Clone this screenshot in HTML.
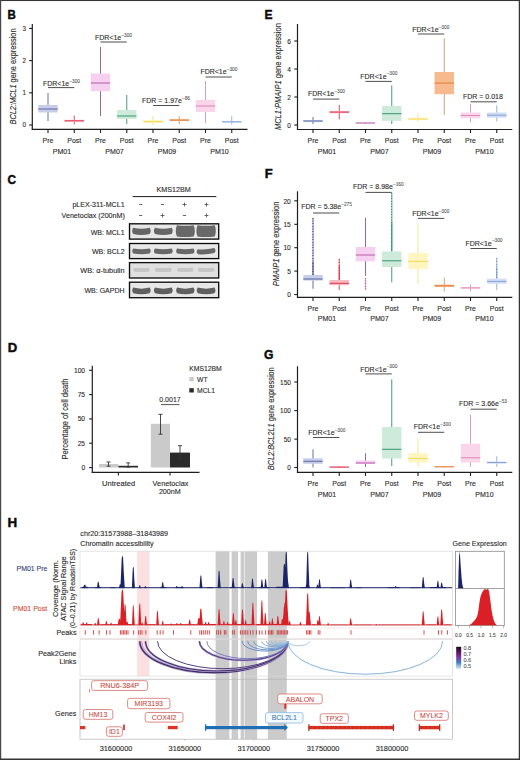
<!DOCTYPE html>
<html><head><meta charset="utf-8"><title>Figure</title>
<style>
html,body{margin:0;padding:0;background:#fff;}
body{width:520px;height:760px;overflow:hidden;}
svg{display:block;font-family:"Liberation Sans", sans-serif;}
</style></head><body>
<svg width="520" height="760" viewBox="0 0 520 760" fill="#2b2b2b">
<rect x="0" y="0" width="520" height="760" fill="#fff"/>
<text x="7.6" y="18.75" font-size="13.4" fill="#0a0a0a" font-weight="bold" textLength="8.32" lengthAdjust="spacingAndGlyphs" stroke="#0a0a0a" stroke-width="0.45">B</text>
<line x1="32.3" y1="24" x2="32.3" y2="129.6" stroke="#1e1e1e" stroke-width="1.2"/>
<line x1="29.1" y1="28.4" x2="32.3" y2="28.4" stroke="#1e1e1e" stroke-width="1.1"/>
<text x="26" y="30.85" font-size="6.8" text-anchor="end" textLength="3.48" lengthAdjust="spacingAndGlyphs" stroke="#2b2b2b" stroke-width="0.11">3</text>
<line x1="29.1" y1="60.6" x2="32.3" y2="60.6" stroke="#1e1e1e" stroke-width="1.1"/>
<text x="26" y="63.05" font-size="6.8" text-anchor="end" textLength="3.48" lengthAdjust="spacingAndGlyphs" stroke="#2b2b2b" stroke-width="0.11">2</text>
<line x1="29.1" y1="92.8" x2="32.3" y2="92.8" stroke="#1e1e1e" stroke-width="1.1"/>
<text x="26" y="95.25" font-size="6.8" text-anchor="end" textLength="3.48" lengthAdjust="spacingAndGlyphs" stroke="#2b2b2b" stroke-width="0.11">1</text>
<line x1="29.1" y1="125" x2="32.3" y2="125" stroke="#1e1e1e" stroke-width="1.1"/>
<text x="26" y="127.45" font-size="6.8" text-anchor="end" textLength="3.48" lengthAdjust="spacingAndGlyphs" stroke="#2b2b2b" stroke-width="0.11">0</text>
<line x1="31.7" y1="129.3" x2="247.5" y2="129.3" stroke="#1e1e1e" stroke-width="1.2"/>
<line x1="48" y1="129.3" x2="48" y2="132.9" stroke="#1e1e1e" stroke-width="1.1"/>
<line x1="74.25" y1="129.3" x2="74.25" y2="132.9" stroke="#1e1e1e" stroke-width="1.1"/>
<line x1="100.5" y1="129.3" x2="100.5" y2="132.9" stroke="#1e1e1e" stroke-width="1.1"/>
<line x1="126.75" y1="129.3" x2="126.75" y2="132.9" stroke="#1e1e1e" stroke-width="1.1"/>
<line x1="153" y1="129.3" x2="153" y2="132.9" stroke="#1e1e1e" stroke-width="1.1"/>
<line x1="179.25" y1="129.3" x2="179.25" y2="132.9" stroke="#1e1e1e" stroke-width="1.1"/>
<line x1="205.5" y1="129.3" x2="205.5" y2="132.9" stroke="#1e1e1e" stroke-width="1.1"/>
<line x1="231.75" y1="129.3" x2="231.75" y2="132.9" stroke="#1e1e1e" stroke-width="1.1"/>
<line x1="48" y1="93" x2="48" y2="121" stroke="#5e6aa0" stroke-width="0.95"/>
<rect x="38.3" y="105" width="19.4" height="7.5" fill="#c8cde8"/>
<line x1="38.3" y1="109" x2="57.7" y2="109" stroke="#5d6aa6" stroke-width="1.05"/>
<line x1="74.25" y1="115.5" x2="74.25" y2="124.5" stroke="#d24860" stroke-width="0.95"/>
<rect x="64.55" y="119.8" width="19.4" height="2" fill="#f7b9c2"/>
<line x1="64.55" y1="120.8" x2="83.95" y2="120.8" stroke="#e03a52" stroke-width="1.05"/>
<line x1="100.5" y1="47" x2="100.5" y2="116" stroke="#9c5894" stroke-width="0.95"/>
<rect x="90.8" y="73.5" width="19.4" height="17.7" fill="#f5d0ef"/>
<line x1="90.8" y1="83" x2="110.2" y2="83" stroke="#b862ad" stroke-width="1.05"/>
<line x1="126.75" y1="95" x2="126.75" y2="124" stroke="#3f9470" stroke-width="0.95"/>
<rect x="117.05" y="110" width="19.4" height="9" fill="#cdeadb"/>
<line x1="117.05" y1="116" x2="136.45" y2="116" stroke="#3a9a70" stroke-width="1.05"/>
<line x1="153" y1="116" x2="153" y2="125" stroke="#f3e286" stroke-width="0.95"/>
<rect x="143.3" y="120" width="19.4" height="3" fill="#fef5c0"/>
<line x1="143.3" y1="121.6" x2="162.7" y2="121.6" stroke="#f1da5a" stroke-width="1.05"/>
<line x1="179.25" y1="116" x2="179.25" y2="124" stroke="#d29a70" stroke-width="0.95"/>
<rect x="169.55" y="119.2" width="19.4" height="1.8" fill="#f7b98e"/>
<line x1="169.55" y1="120.1" x2="188.95" y2="120.1" stroke="#e67f38" stroke-width="1.05"/>
<line x1="205.5" y1="81" x2="205.5" y2="123" stroke="#d898bc" stroke-width="0.95"/>
<rect x="195.8" y="100" width="19.4" height="12" fill="#f9d6ea"/>
<line x1="195.8" y1="106" x2="215.2" y2="106" stroke="#e286b6" stroke-width="1.05"/>
<line x1="231.75" y1="116" x2="231.75" y2="124.5" stroke="#94acdc" stroke-width="0.95"/>
<rect x="222.05" y="120.9" width="19.4" height="1.7" fill="#d3def5"/>
<line x1="222.05" y1="121.8" x2="241.45" y2="121.8" stroke="#86a2da" stroke-width="1.05"/>
<text x="43" y="85.6" font-size="7.6" textLength="26.23" lengthAdjust="spacingAndGlyphs" stroke="#2b2b2b" stroke-width="0.12">FDR&lt;1e</text>
<text x="69.43" y="82.5" font-size="5" fill="#505050" textLength="10.57" lengthAdjust="spacingAndGlyphs" stroke="#505050" stroke-width="0.08">&#8211;300</text>
<line x1="48" y1="87.6" x2="74.25" y2="87.6" stroke="#3a3a3a" stroke-width="0.9"/>
<text x="95" y="39.9" font-size="7.6" textLength="26.23" lengthAdjust="spacingAndGlyphs" stroke="#2b2b2b" stroke-width="0.12">FDR&lt;1e</text>
<text x="121.43" y="36.8" font-size="5" fill="#505050" textLength="10.57" lengthAdjust="spacingAndGlyphs" stroke="#505050" stroke-width="0.08">&#8211;300</text>
<line x1="100.5" y1="42" x2="126.75" y2="42" stroke="#3a3a3a" stroke-width="0.9"/>
<text x="142" y="103.2" font-size="7.6" textLength="39.83" lengthAdjust="spacingAndGlyphs" stroke="#2b2b2b" stroke-width="0.12">FDR = 1.97e</text>
<text x="182.03" y="100.1" font-size="5" fill="#505050" textLength="7.92" lengthAdjust="spacingAndGlyphs" stroke="#505050" stroke-width="0.08">&#8211;86</text>
<line x1="153" y1="105.5" x2="179.25" y2="105.5" stroke="#3a3a3a" stroke-width="0.9"/>
<text x="200.4" y="74.3" font-size="7.6" textLength="26.23" lengthAdjust="spacingAndGlyphs" stroke="#2b2b2b" stroke-width="0.12">FDR&lt;1e</text>
<text x="226.83" y="71.2" font-size="5" fill="#505050" textLength="10.57" lengthAdjust="spacingAndGlyphs" stroke="#505050" stroke-width="0.08">&#8211;300</text>
<line x1="205.5" y1="77" x2="231.75" y2="77" stroke="#3a3a3a" stroke-width="0.9"/>
<text x="48" y="142.6" font-size="7.4" text-anchor="middle" textLength="10.82" lengthAdjust="spacingAndGlyphs" stroke="#2b2b2b" stroke-width="0.12">Pre</text>
<text x="74.25" y="142.6" font-size="7.4" text-anchor="middle" textLength="13.92" lengthAdjust="spacingAndGlyphs" stroke="#2b2b2b" stroke-width="0.12">Post</text>
<text x="100.5" y="142.6" font-size="7.4" text-anchor="middle" textLength="10.82" lengthAdjust="spacingAndGlyphs" stroke="#2b2b2b" stroke-width="0.12">Pre</text>
<text x="126.75" y="142.6" font-size="7.4" text-anchor="middle" textLength="13.92" lengthAdjust="spacingAndGlyphs" stroke="#2b2b2b" stroke-width="0.12">Post</text>
<text x="153" y="142.6" font-size="7.4" text-anchor="middle" textLength="10.82" lengthAdjust="spacingAndGlyphs" stroke="#2b2b2b" stroke-width="0.12">Pre</text>
<text x="179.25" y="142.6" font-size="7.4" text-anchor="middle" textLength="13.92" lengthAdjust="spacingAndGlyphs" stroke="#2b2b2b" stroke-width="0.12">Post</text>
<text x="205.5" y="142.6" font-size="7.4" text-anchor="middle" textLength="10.82" lengthAdjust="spacingAndGlyphs" stroke="#2b2b2b" stroke-width="0.12">Pre</text>
<text x="231.75" y="142.6" font-size="7.4" text-anchor="middle" textLength="13.92" lengthAdjust="spacingAndGlyphs" stroke="#2b2b2b" stroke-width="0.12">Post</text>
<text x="62.02" y="153.7" font-size="7.4" text-anchor="middle" textLength="18.36" lengthAdjust="spacingAndGlyphs" stroke="#2b2b2b" stroke-width="0.12">PM01</text>
<text x="114.53" y="153.7" font-size="7.4" text-anchor="middle" textLength="18.36" lengthAdjust="spacingAndGlyphs" stroke="#2b2b2b" stroke-width="0.12">PM07</text>
<text x="167.03" y="153.7" font-size="7.4" text-anchor="middle" textLength="18.36" lengthAdjust="spacingAndGlyphs" stroke="#2b2b2b" stroke-width="0.12">PM09</text>
<text x="219.53" y="153.7" font-size="7.4" text-anchor="middle" textLength="18.36" lengthAdjust="spacingAndGlyphs" stroke="#2b2b2b" stroke-width="0.12">PM10</text>
<text x="0" y="0" font-size="9" text-anchor="middle" textLength="96" lengthAdjust="spacingAndGlyphs" stroke="#2b2b2b" stroke-width="0.12" transform="translate(15.9 76.5) rotate(-90)"><tspan font-style="italic">BCL2:MCL1</tspan> gene expression</text>
<text x="264.5" y="18.5" font-size="13.4" fill="#0a0a0a" font-weight="bold" textLength="8.04" lengthAdjust="spacingAndGlyphs" stroke="#0a0a0a" stroke-width="0.45">E</text>
<line x1="297.5" y1="24" x2="297.5" y2="129.6" stroke="#1e1e1e" stroke-width="1.2"/>
<line x1="294.3" y1="41" x2="297.5" y2="41" stroke="#1e1e1e" stroke-width="1.1"/>
<text x="291" y="43.63" font-size="7.3" text-anchor="end" textLength="3.65" lengthAdjust="spacingAndGlyphs" stroke="#2b2b2b" stroke-width="0.12">6</text>
<line x1="294.3" y1="69" x2="297.5" y2="69" stroke="#1e1e1e" stroke-width="1.1"/>
<text x="291" y="71.63" font-size="7.3" text-anchor="end" textLength="3.65" lengthAdjust="spacingAndGlyphs" stroke="#2b2b2b" stroke-width="0.12">4</text>
<line x1="294.3" y1="97" x2="297.5" y2="97" stroke="#1e1e1e" stroke-width="1.1"/>
<text x="291" y="99.63" font-size="7.3" text-anchor="end" textLength="3.65" lengthAdjust="spacingAndGlyphs" stroke="#2b2b2b" stroke-width="0.12">2</text>
<line x1="294.3" y1="125" x2="297.5" y2="125" stroke="#1e1e1e" stroke-width="1.1"/>
<text x="291" y="127.63" font-size="7.3" text-anchor="end" textLength="3.65" lengthAdjust="spacingAndGlyphs" stroke="#2b2b2b" stroke-width="0.12">0</text>
<line x1="296.9" y1="129.5" x2="512.3" y2="129.5" stroke="#1e1e1e" stroke-width="1.2"/>
<line x1="313" y1="129.5" x2="313" y2="133.1" stroke="#1e1e1e" stroke-width="1.1"/>
<line x1="339.25" y1="129.5" x2="339.25" y2="133.1" stroke="#1e1e1e" stroke-width="1.1"/>
<line x1="365.5" y1="129.5" x2="365.5" y2="133.1" stroke="#1e1e1e" stroke-width="1.1"/>
<line x1="391.75" y1="129.5" x2="391.75" y2="133.1" stroke="#1e1e1e" stroke-width="1.1"/>
<line x1="418" y1="129.5" x2="418" y2="133.1" stroke="#1e1e1e" stroke-width="1.1"/>
<line x1="444.25" y1="129.5" x2="444.25" y2="133.1" stroke="#1e1e1e" stroke-width="1.1"/>
<line x1="470.5" y1="129.5" x2="470.5" y2="133.1" stroke="#1e1e1e" stroke-width="1.1"/>
<line x1="496.75" y1="129.5" x2="496.75" y2="133.1" stroke="#1e1e1e" stroke-width="1.1"/>
<line x1="313" y1="117" x2="313" y2="124" stroke="#5e6aa0" stroke-width="0.95"/>
<rect x="303.3" y="120.3" width="19.4" height="1.5" fill="#c8cde8"/>
<line x1="303.3" y1="121" x2="322.7" y2="121" stroke="#5d6aa6" stroke-width="1.05"/>
<line x1="339.25" y1="105" x2="339.25" y2="119.5" stroke="#d24860" stroke-width="0.95"/>
<rect x="329.55" y="111" width="19.4" height="2.2" fill="#f7b9c2"/>
<line x1="329.55" y1="112.1" x2="348.95" y2="112.1" stroke="#e03a52" stroke-width="1.05"/>
<line x1="365.5" y1="122.3" x2="365.5" y2="123.7" stroke="#9c5894" stroke-width="0.95"/>
<rect x="355.8" y="122.6" width="19.4" height="0.8" fill="#f5d0ef"/>
<line x1="355.8" y1="123" x2="375.2" y2="123" stroke="#b862ad" stroke-width="1.05"/>
<line x1="391.75" y1="85.4" x2="391.75" y2="124" stroke="#3f9470" stroke-width="0.95"/>
<rect x="382.05" y="106" width="19.4" height="14.8" fill="#cdeadb"/>
<line x1="382.05" y1="113.7" x2="401.45" y2="113.7" stroke="#3a9a70" stroke-width="1.05"/>
<line x1="418" y1="113.7" x2="418" y2="122" stroke="#f3e286" stroke-width="0.95"/>
<rect x="408.3" y="117.7" width="19.4" height="2.5" fill="#fef5c0"/>
<line x1="408.3" y1="119" x2="427.7" y2="119" stroke="#f1da5a" stroke-width="1.05"/>
<line x1="444.25" y1="38.3" x2="444.25" y2="115" stroke="#d29a70" stroke-width="0.95"/>
<rect x="434.55" y="72" width="19.4" height="22.2" fill="#f7b98e"/>
<line x1="434.55" y1="83.1" x2="453.95" y2="83.1" stroke="#e67f38" stroke-width="1.05"/>
<line x1="470.5" y1="103.8" x2="470.5" y2="122.3" stroke="#d898bc" stroke-width="0.95"/>
<rect x="460.8" y="112.5" width="19.4" height="5.8" fill="#f9d6ea"/>
<line x1="460.8" y1="115.5" x2="480.2" y2="115.5" stroke="#e286b6" stroke-width="1.05"/>
<line x1="496.75" y1="105.4" x2="496.75" y2="121.4" stroke="#94acdc" stroke-width="0.95"/>
<rect x="487.05" y="112.5" width="19.4" height="5.2" fill="#d3def5"/>
<line x1="487.05" y1="115.2" x2="506.45" y2="115.2" stroke="#86a2da" stroke-width="1.05"/>
<text x="308" y="96.2" font-size="7.6" textLength="26.23" lengthAdjust="spacingAndGlyphs" stroke="#2b2b2b" stroke-width="0.12">FDR&lt;1e</text>
<text x="334.43" y="93.1" font-size="5" fill="#505050" textLength="10.57" lengthAdjust="spacingAndGlyphs" stroke="#505050" stroke-width="0.08">&#8211;300</text>
<line x1="313" y1="99.1" x2="339.25" y2="99.1" stroke="#3a3a3a" stroke-width="0.9"/>
<text x="360.3" y="78.5" font-size="7.6" textLength="26.23" lengthAdjust="spacingAndGlyphs" stroke="#2b2b2b" stroke-width="0.12">FDR&lt;1e</text>
<text x="386.73" y="75.4" font-size="5" fill="#505050" textLength="10.57" lengthAdjust="spacingAndGlyphs" stroke="#505050" stroke-width="0.08">&#8211;300</text>
<line x1="365.5" y1="81.4" x2="391.75" y2="81.4" stroke="#3a3a3a" stroke-width="0.9"/>
<text x="412.3" y="31.6" font-size="7.6" textLength="26.23" lengthAdjust="spacingAndGlyphs" stroke="#2b2b2b" stroke-width="0.12">FDR&lt;1e</text>
<text x="438.73" y="28.5" font-size="5" fill="#505050" textLength="10.57" lengthAdjust="spacingAndGlyphs" stroke="#505050" stroke-width="0.08">&#8211;300</text>
<line x1="418" y1="34" x2="444.25" y2="34" stroke="#3a3a3a" stroke-width="0.9"/>
<text x="463" y="99.3" font-size="7.6" textLength="39.83" lengthAdjust="spacingAndGlyphs" stroke="#2b2b2b" stroke-width="0.12">FDR = 0.018</text>
<line x1="470.5" y1="101.8" x2="496.75" y2="101.8" stroke="#3a3a3a" stroke-width="0.9"/>
<text x="313" y="142.7" font-size="7.4" text-anchor="middle" textLength="10.82" lengthAdjust="spacingAndGlyphs" stroke="#2b2b2b" stroke-width="0.12">Pre</text>
<text x="339.25" y="142.7" font-size="7.4" text-anchor="middle" textLength="13.92" lengthAdjust="spacingAndGlyphs" stroke="#2b2b2b" stroke-width="0.12">Post</text>
<text x="365.5" y="142.7" font-size="7.4" text-anchor="middle" textLength="10.82" lengthAdjust="spacingAndGlyphs" stroke="#2b2b2b" stroke-width="0.12">Pre</text>
<text x="391.75" y="142.7" font-size="7.4" text-anchor="middle" textLength="13.92" lengthAdjust="spacingAndGlyphs" stroke="#2b2b2b" stroke-width="0.12">Post</text>
<text x="418" y="142.7" font-size="7.4" text-anchor="middle" textLength="10.82" lengthAdjust="spacingAndGlyphs" stroke="#2b2b2b" stroke-width="0.12">Pre</text>
<text x="444.25" y="142.7" font-size="7.4" text-anchor="middle" textLength="13.92" lengthAdjust="spacingAndGlyphs" stroke="#2b2b2b" stroke-width="0.12">Post</text>
<text x="470.5" y="142.7" font-size="7.4" text-anchor="middle" textLength="10.82" lengthAdjust="spacingAndGlyphs" stroke="#2b2b2b" stroke-width="0.12">Pre</text>
<text x="496.75" y="142.7" font-size="7.4" text-anchor="middle" textLength="13.92" lengthAdjust="spacingAndGlyphs" stroke="#2b2b2b" stroke-width="0.12">Post</text>
<text x="327.02" y="154" font-size="7.4" text-anchor="middle" textLength="18.36" lengthAdjust="spacingAndGlyphs" stroke="#2b2b2b" stroke-width="0.12">PM01</text>
<text x="379.52" y="154" font-size="7.4" text-anchor="middle" textLength="18.36" lengthAdjust="spacingAndGlyphs" stroke="#2b2b2b" stroke-width="0.12">PM07</text>
<text x="432.02" y="154" font-size="7.4" text-anchor="middle" textLength="18.36" lengthAdjust="spacingAndGlyphs" stroke="#2b2b2b" stroke-width="0.12">PM09</text>
<text x="484.52" y="154" font-size="7.4" text-anchor="middle" textLength="18.36" lengthAdjust="spacingAndGlyphs" stroke="#2b2b2b" stroke-width="0.12">PM10</text>
<text x="0" y="0" font-size="9" text-anchor="middle" textLength="107" lengthAdjust="spacingAndGlyphs" stroke="#2b2b2b" stroke-width="0.12" transform="translate(281 76.6) rotate(-90)"><tspan font-style="italic">MCL1:PMAIP1</tspan> gene expression</text>
<text x="264.7" y="177.5" font-size="13.4" fill="#0a0a0a" font-weight="bold" textLength="7.94" lengthAdjust="spacingAndGlyphs" stroke="#0a0a0a" stroke-width="0.45">F</text>
<line x1="297.5" y1="191.3" x2="297.5" y2="297.8" stroke="#1e1e1e" stroke-width="1.2"/>
<line x1="294.3" y1="200.8" x2="297.5" y2="200.8" stroke="#1e1e1e" stroke-width="1.1"/>
<text x="290.8" y="203.5" font-size="7.5" text-anchor="end" textLength="7.34" lengthAdjust="spacingAndGlyphs" stroke="#2b2b2b" stroke-width="0.12">20</text>
<line x1="294.3" y1="224.3" x2="297.5" y2="224.3" stroke="#1e1e1e" stroke-width="1.1"/>
<text x="290.8" y="227" font-size="7.5" text-anchor="end" textLength="7.34" lengthAdjust="spacingAndGlyphs" stroke="#2b2b2b" stroke-width="0.12">15</text>
<line x1="294.3" y1="247.7" x2="297.5" y2="247.7" stroke="#1e1e1e" stroke-width="1.1"/>
<text x="290.8" y="250.4" font-size="7.5" text-anchor="end" textLength="7.34" lengthAdjust="spacingAndGlyphs" stroke="#2b2b2b" stroke-width="0.12">10</text>
<line x1="294.3" y1="271.1" x2="297.5" y2="271.1" stroke="#1e1e1e" stroke-width="1.1"/>
<text x="290.8" y="273.8" font-size="7.5" text-anchor="end" textLength="3.67" lengthAdjust="spacingAndGlyphs" stroke="#2b2b2b" stroke-width="0.12">5</text>
<line x1="294.3" y1="294.5" x2="297.5" y2="294.5" stroke="#1e1e1e" stroke-width="1.1"/>
<text x="290.8" y="297.2" font-size="7.5" text-anchor="end" textLength="3.67" lengthAdjust="spacingAndGlyphs" stroke="#2b2b2b" stroke-width="0.12">0</text>
<line x1="296.9" y1="297.4" x2="512.3" y2="297.4" stroke="#1e1e1e" stroke-width="1.2"/>
<line x1="313" y1="297.4" x2="313" y2="301" stroke="#1e1e1e" stroke-width="1.1"/>
<line x1="339.25" y1="297.4" x2="339.25" y2="301" stroke="#1e1e1e" stroke-width="1.1"/>
<line x1="365.5" y1="297.4" x2="365.5" y2="301" stroke="#1e1e1e" stroke-width="1.1"/>
<line x1="391.75" y1="297.4" x2="391.75" y2="301" stroke="#1e1e1e" stroke-width="1.1"/>
<line x1="418" y1="297.4" x2="418" y2="301" stroke="#1e1e1e" stroke-width="1.1"/>
<line x1="444.25" y1="297.4" x2="444.25" y2="301" stroke="#1e1e1e" stroke-width="1.1"/>
<line x1="470.5" y1="297.4" x2="470.5" y2="301" stroke="#1e1e1e" stroke-width="1.1"/>
<line x1="496.75" y1="297.4" x2="496.75" y2="301" stroke="#1e1e1e" stroke-width="1.1"/>
<line x1="313" y1="262" x2="313" y2="288.8" stroke="#5e6aa0" stroke-width="0.95"/>
<line x1="313" y1="218" x2="313" y2="275" stroke="#34408a" stroke-width="1.35" stroke-dasharray="1.1 0.5"/>
<rect x="303.3" y="275" width="19.4" height="5.6" fill="#c8cde8"/>
<line x1="303.3" y1="279" x2="322.7" y2="279" stroke="#5d6aa6" stroke-width="1.05"/>
<line x1="339.25" y1="266" x2="339.25" y2="290" stroke="#d24860" stroke-width="0.95"/>
<line x1="339.25" y1="258.7" x2="339.25" y2="280" stroke="#d02a3a" stroke-width="1.35" stroke-dasharray="1.1 0.5"/>
<rect x="329.55" y="280" width="19.4" height="5.2" fill="#f7b9c2"/>
<line x1="329.55" y1="283.3" x2="348.95" y2="283.3" stroke="#e03a52" stroke-width="1.05"/>
<line x1="365.5" y1="217.7" x2="365.5" y2="276" stroke="#9c5894" stroke-width="0.95"/>
<line x1="365.5" y1="278" x2="365.5" y2="290" stroke="#b060a8" stroke-width="1.35" stroke-dasharray="1.1 0.5"/>
<rect x="355.8" y="247" width="19.4" height="14.3" fill="#f5d0ef"/>
<line x1="355.8" y1="255" x2="375.2" y2="255" stroke="#b862ad" stroke-width="1.05"/>
<line x1="391.75" y1="222" x2="391.75" y2="282.3" stroke="#3f9470" stroke-width="0.95"/>
<line x1="391.75" y1="193" x2="391.75" y2="251" stroke="#2a9066" stroke-width="1.35" stroke-dasharray="1.1 0.5"/>
<rect x="382.05" y="251.5" width="19.4" height="15.5" fill="#cdeadb"/>
<line x1="382.05" y1="260.8" x2="401.45" y2="260.8" stroke="#3a9a70" stroke-width="1.05"/>
<line x1="418" y1="223.8" x2="418" y2="283.8" stroke="#f3e286" stroke-width="0.95"/>
<rect x="408.3" y="253" width="19.4" height="16" fill="#fef5c0"/>
<line x1="408.3" y1="261.4" x2="427.7" y2="261.4" stroke="#f1da5a" stroke-width="1.05"/>
<line x1="444.25" y1="277.7" x2="444.25" y2="291.5" stroke="#d29a70" stroke-width="0.95"/>
<rect x="434.55" y="284.6" width="19.4" height="2.4" fill="#f7b98e"/>
<line x1="434.55" y1="285.8" x2="453.95" y2="285.8" stroke="#e67f38" stroke-width="1.05"/>
<line x1="470.5" y1="284.5" x2="470.5" y2="291" stroke="#d898bc" stroke-width="0.95"/>
<rect x="460.8" y="287.2" width="19.4" height="1.4" fill="#f9d6ea"/>
<line x1="460.8" y1="287.9" x2="480.2" y2="287.9" stroke="#e286b6" stroke-width="1.05"/>
<line x1="496.75" y1="268" x2="496.75" y2="290" stroke="#94acdc" stroke-width="0.95"/>
<line x1="496.75" y1="257.7" x2="496.75" y2="278" stroke="#7392d2" stroke-width="1.35" stroke-dasharray="1.1 0.5"/>
<rect x="487.05" y="278.6" width="19.4" height="5.2" fill="#d3def5"/>
<line x1="487.05" y1="281.4" x2="506.45" y2="281.4" stroke="#86a2da" stroke-width="1.05"/>
<text x="301.3" y="209.4" font-size="7.6" textLength="39.83" lengthAdjust="spacingAndGlyphs" stroke="#2b2b2b" stroke-width="0.12">FDR = 5.38e</text>
<text x="341.33" y="206.3" font-size="5" fill="#505050" textLength="10.57" lengthAdjust="spacingAndGlyphs" stroke="#505050" stroke-width="0.08">&#8211;275</text>
<line x1="313" y1="213" x2="339.25" y2="213" stroke="#3a3a3a" stroke-width="0.9"/>
<text x="353" y="189.4" font-size="7.6" textLength="39.83" lengthAdjust="spacingAndGlyphs" stroke="#2b2b2b" stroke-width="0.12">FDR = 8.98e</text>
<text x="393.03" y="186.3" font-size="5" fill="#505050" textLength="10.57" lengthAdjust="spacingAndGlyphs" stroke="#505050" stroke-width="0.08">&#8211;160</text>
<line x1="365.5" y1="192.4" x2="391.75" y2="192.4" stroke="#3a3a3a" stroke-width="0.9"/>
<text x="412.3" y="216.1" font-size="7.6" textLength="26.23" lengthAdjust="spacingAndGlyphs" stroke="#2b2b2b" stroke-width="0.12">FDR&lt;1e</text>
<text x="438.73" y="213" font-size="5" fill="#505050" textLength="10.57" lengthAdjust="spacingAndGlyphs" stroke="#505050" stroke-width="0.08">&#8211;300</text>
<line x1="418" y1="218.4" x2="444.25" y2="218.4" stroke="#3a3a3a" stroke-width="0.9"/>
<text x="465.5" y="245.5" font-size="7.6" textLength="26.23" lengthAdjust="spacingAndGlyphs" stroke="#2b2b2b" stroke-width="0.12">FDR&lt;1e</text>
<text x="491.93" y="242.4" font-size="5" fill="#505050" textLength="10.57" lengthAdjust="spacingAndGlyphs" stroke="#505050" stroke-width="0.08">&#8211;300</text>
<line x1="470.5" y1="248.5" x2="496.75" y2="248.5" stroke="#3a3a3a" stroke-width="0.9"/>
<text x="313" y="310.6" font-size="7.4" text-anchor="middle" textLength="10.82" lengthAdjust="spacingAndGlyphs" stroke="#2b2b2b" stroke-width="0.12">Pre</text>
<text x="339.25" y="310.6" font-size="7.4" text-anchor="middle" textLength="13.92" lengthAdjust="spacingAndGlyphs" stroke="#2b2b2b" stroke-width="0.12">Post</text>
<text x="365.5" y="310.6" font-size="7.4" text-anchor="middle" textLength="10.82" lengthAdjust="spacingAndGlyphs" stroke="#2b2b2b" stroke-width="0.12">Pre</text>
<text x="391.75" y="310.6" font-size="7.4" text-anchor="middle" textLength="13.92" lengthAdjust="spacingAndGlyphs" stroke="#2b2b2b" stroke-width="0.12">Post</text>
<text x="418" y="310.6" font-size="7.4" text-anchor="middle" textLength="10.82" lengthAdjust="spacingAndGlyphs" stroke="#2b2b2b" stroke-width="0.12">Pre</text>
<text x="444.25" y="310.6" font-size="7.4" text-anchor="middle" textLength="13.92" lengthAdjust="spacingAndGlyphs" stroke="#2b2b2b" stroke-width="0.12">Post</text>
<text x="470.5" y="310.6" font-size="7.4" text-anchor="middle" textLength="10.82" lengthAdjust="spacingAndGlyphs" stroke="#2b2b2b" stroke-width="0.12">Pre</text>
<text x="496.75" y="310.6" font-size="7.4" text-anchor="middle" textLength="13.92" lengthAdjust="spacingAndGlyphs" stroke="#2b2b2b" stroke-width="0.12">Post</text>
<text x="327.02" y="321.4" font-size="7.4" text-anchor="middle" textLength="18.36" lengthAdjust="spacingAndGlyphs" stroke="#2b2b2b" stroke-width="0.12">PM01</text>
<text x="379.52" y="321.4" font-size="7.4" text-anchor="middle" textLength="18.36" lengthAdjust="spacingAndGlyphs" stroke="#2b2b2b" stroke-width="0.12">PM07</text>
<text x="432.02" y="321.4" font-size="7.4" text-anchor="middle" textLength="18.36" lengthAdjust="spacingAndGlyphs" stroke="#2b2b2b" stroke-width="0.12">PM09</text>
<text x="484.52" y="321.4" font-size="7.4" text-anchor="middle" textLength="18.36" lengthAdjust="spacingAndGlyphs" stroke="#2b2b2b" stroke-width="0.12">PM10</text>
<text x="0" y="0" font-size="9" text-anchor="middle" textLength="84.5" lengthAdjust="spacingAndGlyphs" stroke="#2b2b2b" stroke-width="0.12" transform="translate(278.6 243.9) rotate(-90)"><tspan font-style="italic">PMAIP1</tspan> gene expression</text>
<text x="264" y="359.1" font-size="13.4" fill="#0a0a0a" font-weight="bold" textLength="9.48" lengthAdjust="spacingAndGlyphs" stroke="#0a0a0a" stroke-width="0.45">G</text>
<line x1="297.5" y1="366.3" x2="297.5" y2="472.7" stroke="#1e1e1e" stroke-width="1.2"/>
<line x1="294.3" y1="382" x2="297.5" y2="382" stroke="#1e1e1e" stroke-width="1.1"/>
<text x="290.8" y="384.63" font-size="7.3" text-anchor="end" textLength="10.72" lengthAdjust="spacingAndGlyphs" stroke="#2b2b2b" stroke-width="0.12">150</text>
<line x1="294.3" y1="410.6" x2="297.5" y2="410.6" stroke="#1e1e1e" stroke-width="1.1"/>
<text x="290.8" y="413.23" font-size="7.3" text-anchor="end" textLength="10.72" lengthAdjust="spacingAndGlyphs" stroke="#2b2b2b" stroke-width="0.12">100</text>
<line x1="294.3" y1="439.1" x2="297.5" y2="439.1" stroke="#1e1e1e" stroke-width="1.1"/>
<text x="290.8" y="441.73" font-size="7.3" text-anchor="end" textLength="7.14" lengthAdjust="spacingAndGlyphs" stroke="#2b2b2b" stroke-width="0.12">50</text>
<line x1="294.3" y1="467.5" x2="297.5" y2="467.5" stroke="#1e1e1e" stroke-width="1.1"/>
<text x="290.8" y="470.13" font-size="7.3" text-anchor="end" textLength="3.57" lengthAdjust="spacingAndGlyphs" stroke="#2b2b2b" stroke-width="0.12">0</text>
<line x1="296.9" y1="472.4" x2="512.3" y2="472.4" stroke="#1e1e1e" stroke-width="1.2"/>
<line x1="313" y1="472.4" x2="313" y2="476" stroke="#1e1e1e" stroke-width="1.1"/>
<line x1="339.25" y1="472.4" x2="339.25" y2="476" stroke="#1e1e1e" stroke-width="1.1"/>
<line x1="365.5" y1="472.4" x2="365.5" y2="476" stroke="#1e1e1e" stroke-width="1.1"/>
<line x1="391.75" y1="472.4" x2="391.75" y2="476" stroke="#1e1e1e" stroke-width="1.1"/>
<line x1="418" y1="472.4" x2="418" y2="476" stroke="#1e1e1e" stroke-width="1.1"/>
<line x1="444.25" y1="472.4" x2="444.25" y2="476" stroke="#1e1e1e" stroke-width="1.1"/>
<line x1="470.5" y1="472.4" x2="470.5" y2="476" stroke="#1e1e1e" stroke-width="1.1"/>
<line x1="496.75" y1="472.4" x2="496.75" y2="476" stroke="#1e1e1e" stroke-width="1.1"/>
<line x1="313" y1="449.3" x2="313" y2="467.5" stroke="#5e6aa0" stroke-width="0.95"/>
<rect x="303.3" y="458.3" width="19.4" height="5.5" fill="#c8cde8"/>
<line x1="303.3" y1="461.3" x2="322.7" y2="461.3" stroke="#5d6aa6" stroke-width="1.05"/>
<line x1="339.25" y1="466.3" x2="339.25" y2="467.8" stroke="#d24860" stroke-width="0.95"/>
<rect x="329.55" y="466.5" width="19.4" height="1.1" fill="#f7b9c2"/>
<line x1="329.55" y1="467.1" x2="348.95" y2="467.1" stroke="#e03a52" stroke-width="1.05"/>
<line x1="365.5" y1="453.2" x2="365.5" y2="467" stroke="#9c5894" stroke-width="0.95"/>
<rect x="355.8" y="460.5" width="19.4" height="3.5" fill="#f5d0ef"/>
<line x1="355.8" y1="463" x2="375.2" y2="463" stroke="#b862ad" stroke-width="1.05"/>
<line x1="391.75" y1="379.4" x2="391.75" y2="466.2" stroke="#3f9470" stroke-width="0.95"/>
<rect x="382.05" y="427" width="19.4" height="31.5" fill="#cdeadb"/>
<line x1="382.05" y1="449.3" x2="401.45" y2="449.3" stroke="#3a9a70" stroke-width="1.05"/>
<line x1="418" y1="439" x2="418" y2="466.8" stroke="#f3e286" stroke-width="0.95"/>
<rect x="408.3" y="453.2" width="19.4" height="9.3" fill="#fef5c0"/>
<line x1="408.3" y1="458.5" x2="427.7" y2="458.5" stroke="#f1da5a" stroke-width="1.05"/>
<line x1="444.25" y1="466.2" x2="444.25" y2="467.4" stroke="#d29a70" stroke-width="0.95"/>
<rect x="434.55" y="466.4" width="19.4" height="0.8" fill="#f7b98e"/>
<line x1="434.55" y1="466.8" x2="453.95" y2="466.8" stroke="#e67f38" stroke-width="1.05"/>
<line x1="470.5" y1="414.8" x2="470.5" y2="466.8" stroke="#d898bc" stroke-width="0.95"/>
<rect x="460.8" y="443.7" width="19.4" height="18.8" fill="#f9d6ea"/>
<line x1="460.8" y1="457.8" x2="480.2" y2="457.8" stroke="#e286b6" stroke-width="1.05"/>
<line x1="496.75" y1="456.3" x2="496.75" y2="466.8" stroke="#94acdc" stroke-width="0.95"/>
<rect x="487.05" y="461.5" width="19.4" height="2.2" fill="#d3def5"/>
<line x1="487.05" y1="462.5" x2="506.45" y2="462.5" stroke="#86a2da" stroke-width="1.05"/>
<text x="308.3" y="435.1" font-size="7.6" textLength="26.23" lengthAdjust="spacingAndGlyphs" stroke="#2b2b2b" stroke-width="0.12">FDR&lt;1e</text>
<text x="334.73" y="432" font-size="5" fill="#505050" textLength="10.57" lengthAdjust="spacingAndGlyphs" stroke="#505050" stroke-width="0.08">&#8211;300</text>
<line x1="313" y1="437.5" x2="339.25" y2="437.5" stroke="#3a3a3a" stroke-width="0.9"/>
<text x="360.3" y="371.5" font-size="7.6" textLength="26.23" lengthAdjust="spacingAndGlyphs" stroke="#2b2b2b" stroke-width="0.12">FDR&lt;1e</text>
<text x="386.73" y="368.4" font-size="5" fill="#505050" textLength="10.57" lengthAdjust="spacingAndGlyphs" stroke="#505050" stroke-width="0.08">&#8211;300</text>
<line x1="365.5" y1="373.9" x2="391.75" y2="373.9" stroke="#3a3a3a" stroke-width="0.9"/>
<text x="413.8" y="429.3" font-size="7.6" textLength="26.23" lengthAdjust="spacingAndGlyphs" stroke="#2b2b2b" stroke-width="0.12">FDR&lt;1e</text>
<text x="440.23" y="426.2" font-size="5" fill="#505050" textLength="10.57" lengthAdjust="spacingAndGlyphs" stroke="#505050" stroke-width="0.08">&#8211;300</text>
<line x1="418" y1="432.3" x2="444.25" y2="432.3" stroke="#3a3a3a" stroke-width="0.9"/>
<text x="459" y="406.3" font-size="7.6" textLength="39.83" lengthAdjust="spacingAndGlyphs" stroke="#2b2b2b" stroke-width="0.12">FDR = 3.66e</text>
<text x="499.03" y="403.2" font-size="5" fill="#505050" textLength="7.92" lengthAdjust="spacingAndGlyphs" stroke="#505050" stroke-width="0.08">&#8211;53</text>
<line x1="470.5" y1="409.2" x2="496.75" y2="409.2" stroke="#3a3a3a" stroke-width="0.9"/>
<text x="313" y="485.6" font-size="7.4" text-anchor="middle" textLength="10.82" lengthAdjust="spacingAndGlyphs" stroke="#2b2b2b" stroke-width="0.12">Pre</text>
<text x="339.25" y="485.6" font-size="7.4" text-anchor="middle" textLength="13.92" lengthAdjust="spacingAndGlyphs" stroke="#2b2b2b" stroke-width="0.12">Post</text>
<text x="365.5" y="485.6" font-size="7.4" text-anchor="middle" textLength="10.82" lengthAdjust="spacingAndGlyphs" stroke="#2b2b2b" stroke-width="0.12">Pre</text>
<text x="391.75" y="485.6" font-size="7.4" text-anchor="middle" textLength="13.92" lengthAdjust="spacingAndGlyphs" stroke="#2b2b2b" stroke-width="0.12">Post</text>
<text x="418" y="485.6" font-size="7.4" text-anchor="middle" textLength="10.82" lengthAdjust="spacingAndGlyphs" stroke="#2b2b2b" stroke-width="0.12">Pre</text>
<text x="444.25" y="485.6" font-size="7.4" text-anchor="middle" textLength="13.92" lengthAdjust="spacingAndGlyphs" stroke="#2b2b2b" stroke-width="0.12">Post</text>
<text x="470.5" y="485.6" font-size="7.4" text-anchor="middle" textLength="10.82" lengthAdjust="spacingAndGlyphs" stroke="#2b2b2b" stroke-width="0.12">Pre</text>
<text x="496.75" y="485.6" font-size="7.4" text-anchor="middle" textLength="13.92" lengthAdjust="spacingAndGlyphs" stroke="#2b2b2b" stroke-width="0.12">Post</text>
<text x="327.02" y="496.8" font-size="7.4" text-anchor="middle" textLength="18.36" lengthAdjust="spacingAndGlyphs" stroke="#2b2b2b" stroke-width="0.12">PM01</text>
<text x="379.52" y="496.8" font-size="7.4" text-anchor="middle" textLength="18.36" lengthAdjust="spacingAndGlyphs" stroke="#2b2b2b" stroke-width="0.12">PM07</text>
<text x="432.02" y="496.8" font-size="7.4" text-anchor="middle" textLength="18.36" lengthAdjust="spacingAndGlyphs" stroke="#2b2b2b" stroke-width="0.12">PM09</text>
<text x="484.52" y="496.8" font-size="7.4" text-anchor="middle" textLength="18.36" lengthAdjust="spacingAndGlyphs" stroke="#2b2b2b" stroke-width="0.12">PM10</text>
<text x="0" y="0" font-size="9" text-anchor="middle" textLength="103" lengthAdjust="spacingAndGlyphs" stroke="#2b2b2b" stroke-width="0.12" transform="translate(273.6 418.8) rotate(-90)"><tspan font-style="italic">BCL2:BCL2L1</tspan> gene expression</text>
<text x="7.6" y="183.8" font-size="13.4" fill="#0a0a0a" font-weight="bold" textLength="8.52" lengthAdjust="spacingAndGlyphs" stroke="#0a0a0a" stroke-width="0.45">C</text>
<text x="173.7" y="192.2" font-size="7.4" text-anchor="middle" textLength="34.2" lengthAdjust="spacingAndGlyphs" stroke="#2b2b2b" stroke-width="0.12">KMS12BM</text>
<line x1="132.7" y1="196.6" x2="216.3" y2="196.6" stroke="#1a1a1a" stroke-width="1"/>
<text x="124.6" y="206.7" font-size="7.2" text-anchor="end" textLength="52.2" lengthAdjust="spacingAndGlyphs" stroke="#2b2b2b" stroke-width="0.12">pLEX-311-MCL1</text>
<text x="124.8" y="218.1" font-size="7.2" text-anchor="end" textLength="63.2" lengthAdjust="spacingAndGlyphs" stroke="#2b2b2b" stroke-width="0.12">Venetoclax (200nM)</text>
<line x1="139.1" y1="204.5" x2="142.3" y2="204.5" stroke="#4a4a4a" stroke-width="0.85"/>
<line x1="139.1" y1="215.5" x2="142.3" y2="215.5" stroke="#4a4a4a" stroke-width="0.85"/>
<line x1="160.9" y1="204.5" x2="164.1" y2="204.5" stroke="#4a4a4a" stroke-width="0.85"/>
<line x1="160.5" y1="215.5" x2="164.5" y2="215.5" stroke="#4a4a4a" stroke-width="0.8"/>
<line x1="162.5" y1="213.5" x2="162.5" y2="217.5" stroke="#4a4a4a" stroke-width="0.8"/>
<line x1="182.5" y1="204.5" x2="186.5" y2="204.5" stroke="#4a4a4a" stroke-width="0.8"/>
<line x1="184.5" y1="202.5" x2="184.5" y2="206.5" stroke="#4a4a4a" stroke-width="0.8"/>
<line x1="182.9" y1="215.5" x2="186.1" y2="215.5" stroke="#4a4a4a" stroke-width="0.85"/>
<line x1="204.5" y1="204.5" x2="208.5" y2="204.5" stroke="#4a4a4a" stroke-width="0.8"/>
<line x1="206.5" y1="202.5" x2="206.5" y2="206.5" stroke="#4a4a4a" stroke-width="0.8"/>
<line x1="204.5" y1="215.5" x2="208.5" y2="215.5" stroke="#4a4a4a" stroke-width="0.8"/>
<line x1="206.5" y1="213.5" x2="206.5" y2="217.5" stroke="#4a4a4a" stroke-width="0.8"/>
<defs><filter id="bl" x="-10%" y="-40%" width="120%" height="180%"><feGaussianBlur stdDeviation="0.45"/></filter></defs>
<text x="124.6" y="234.55" font-size="7.3" text-anchor="end" textLength="33.88" lengthAdjust="spacingAndGlyphs" stroke="#2b2b2b" stroke-width="0.12">WB: MCL1</text>
<rect x="129.5" y="223.8" width="89.2" height="15.3" fill="#e7e7e7" stroke="#0e0e0e" stroke-width="1.35"/>
<path d="M133.3 227.8 Q141.45 229.6 149.6 227.8 Q151.8 230.95 149.6 234.1 Q141.45 235.9 133.3 234.1 Q131.1 230.95 133.3 227.8 Z" fill="#666666" filter="url(#bl)"/>
<path d="M155 227.8 Q163.3 229.6 171.6 227.8 Q173.8 230.95 171.6 234.1 Q163.3 235.9 155 234.1 Q152.8 230.95 155 227.8 Z" fill="#666666" filter="url(#bl)"/>
<path d="M176.9 225.3 Q185.3 226.3 193.7 225.3 Q195.9 230.95 193.7 236.6 Q185.3 237.6 176.9 236.6 Q174.7 230.95 176.9 225.3 Z" fill="#676767" filter="url(#bl)"/>
<path d="M197.5 225.3 Q206.1 226.3 214.7 225.3 Q216.9 230.95 214.7 236.6 Q206.1 237.6 197.5 236.6 Q195.3 230.95 197.5 225.3 Z" fill="#676767" filter="url(#bl)"/>
<text x="124.6" y="254.15" font-size="7.3" text-anchor="end" textLength="32.71" lengthAdjust="spacingAndGlyphs" stroke="#2b2b2b" stroke-width="0.12">WB: BCL2</text>
<rect x="129.5" y="243.5" width="89.2" height="15.1" fill="#e7e7e7" stroke="#0e0e0e" stroke-width="1.35"/>
<path d="M133.3 248.6 Q141.45 250 149.6 248.6 Q151.8 251.1 149.6 253.6 Q141.45 255 133.3 253.6 Q131.1 251.1 133.3 248.6 Z" fill="#686868" filter="url(#bl)"/>
<path d="M155 248.6 Q163.3 250 171.6 248.6 Q173.8 251.1 171.6 253.6 Q163.3 255 155 253.6 Q152.8 251.1 155 248.6 Z" fill="#686868" filter="url(#bl)"/>
<path d="M177.2 248.6 Q185.3 250 193.4 248.6 Q195.6 251.1 193.4 253.6 Q185.3 255 177.2 253.6 Q175 251.1 177.2 248.6 Z" fill="#686868" filter="url(#bl)"/>
<path d="M197.8 249.2 Q206.1 250 214.4 248 Q216.6 250.5 214.4 253 Q206.1 255 197.8 254.2 Q195.6 251.7 197.8 249.2 Z" fill="#686868" filter="url(#bl)"/>
<text x="124.6" y="272.9" font-size="7.3" text-anchor="end" textLength="44.3" lengthAdjust="spacingAndGlyphs" stroke="#2b2b2b" stroke-width="0.12">WB: &#945;-tubulin</text>
<rect x="129.5" y="262.6" width="89.2" height="15.4" fill="#e0e0e0" stroke="#0e0e0e" stroke-width="1.35"/>
<path d="M134.3 267.8 Q141.45 268.4 148.6 267.8 Q150.8 269.8 148.6 271.8 Q141.45 272.4 134.3 271.8 Q132.1 269.8 134.3 267.8 Z" fill="#c6c6c6" filter="url(#bl)"/>
<path d="M156 267.8 Q163.3 268.4 170.6 267.8 Q172.8 269.8 170.6 271.8 Q163.3 272.4 156 271.8 Q153.8 269.8 156 267.8 Z" fill="#c6c6c6" filter="url(#bl)"/>
<path d="M178.2 267.8 Q185.3 268.4 192.4 267.8 Q194.6 269.8 192.4 271.8 Q185.3 272.4 178.2 271.8 Q176 269.8 178.2 267.8 Z" fill="#c6c6c6" filter="url(#bl)"/>
<path d="M198.8 267.8 Q206.1 268.4 213.4 267.8 Q215.6 269.8 213.4 271.8 Q206.1 272.4 198.8 271.8 Q196.6 269.8 198.8 267.8 Z" fill="#c6c6c6" filter="url(#bl)"/>
<text x="124.6" y="292.55" font-size="7.3" text-anchor="end" textLength="40.11" lengthAdjust="spacingAndGlyphs" stroke="#2b2b2b" stroke-width="0.12">WB: GAPDH</text>
<rect x="129.5" y="282.2" width="89.2" height="15.5" fill="#e7e7e7" stroke="#0e0e0e" stroke-width="1.35"/>
<path d="M133.3 287.6 Q141.45 289.8 149.6 287.6 Q151.8 290.4 149.6 293.2 Q141.45 295.4 133.3 293.2 Q131.1 290.4 133.3 287.6 Z" fill="#5e5e5e" filter="url(#bl)"/>
<path d="M155 287.6 Q163.3 289.8 171.6 287.6 Q173.8 290.4 171.6 293.2 Q163.3 295.4 155 293.2 Q152.8 290.4 155 287.6 Z" fill="#5e5e5e" filter="url(#bl)"/>
<path d="M177.2 287.6 Q185.3 289.8 193.4 287.6 Q195.6 290.4 193.4 293.2 Q185.3 295.4 177.2 293.2 Q175 290.4 177.2 287.6 Z" fill="#5e5e5e" filter="url(#bl)"/>
<path d="M197.8 287.6 Q206.1 289.8 214.4 287.6 Q216.6 290.4 214.4 293.2 Q206.1 295.4 197.8 293.2 Q195.6 290.4 197.8 287.6 Z" fill="#5e5e5e" filter="url(#bl)"/>
<text x="7.7" y="351.8" font-size="13.4" fill="#0a0a0a" font-weight="bold" textLength="9.48" lengthAdjust="spacingAndGlyphs" stroke="#0a0a0a" stroke-width="0.45">D</text>
<line x1="92.3" y1="365.7" x2="92.3" y2="472.9" stroke="#1e1e1e" stroke-width="1.2"/>
<line x1="89.1" y1="370.3" x2="92.3" y2="370.3" stroke="#1e1e1e" stroke-width="1.1"/>
<text x="85.1" y="372.78" font-size="6.9" text-anchor="end" textLength="11.17" lengthAdjust="spacingAndGlyphs" stroke="#2b2b2b" stroke-width="0.11">100</text>
<line x1="89.1" y1="394.6" x2="92.3" y2="394.6" stroke="#1e1e1e" stroke-width="1.1"/>
<text x="85.1" y="397.08" font-size="6.9" text-anchor="end" textLength="7.44" lengthAdjust="spacingAndGlyphs" stroke="#2b2b2b" stroke-width="0.11">75</text>
<line x1="89.1" y1="418.9" x2="92.3" y2="418.9" stroke="#1e1e1e" stroke-width="1.1"/>
<text x="85.1" y="421.38" font-size="6.9" text-anchor="end" textLength="7.44" lengthAdjust="spacingAndGlyphs" stroke="#2b2b2b" stroke-width="0.11">50</text>
<line x1="89.1" y1="443.2" x2="92.3" y2="443.2" stroke="#1e1e1e" stroke-width="1.1"/>
<text x="85.1" y="445.68" font-size="6.9" text-anchor="end" textLength="7.44" lengthAdjust="spacingAndGlyphs" stroke="#2b2b2b" stroke-width="0.11">25</text>
<line x1="89.1" y1="467.6" x2="92.3" y2="467.6" stroke="#1e1e1e" stroke-width="1.1"/>
<text x="85.1" y="470.08" font-size="6.9" text-anchor="end" textLength="3.72" lengthAdjust="spacingAndGlyphs" stroke="#2b2b2b" stroke-width="0.11">0</text>
<line x1="91.7" y1="472.4" x2="199.5" y2="472.4" stroke="#1e1e1e" stroke-width="1.2"/>
<line x1="118.4" y1="472.3" x2="118.4" y2="475.5" stroke="#1e1e1e" stroke-width="1.1"/>
<line x1="170" y1="472.3" x2="170" y2="475.5" stroke="#1e1e1e" stroke-width="1.1"/>
<rect x="99" y="464" width="19.4" height="3.5" fill="#cacaca"/>
<rect x="118.4" y="465.8" width="19.6" height="1.7" fill="#2a2a2a"/>
<rect x="150.8" y="423.8" width="19.2" height="43.7" fill="#cacaca"/>
<rect x="170" y="452.6" width="20" height="14.9" fill="#2a2a2a"/>
<line x1="108.5" y1="462" x2="108.5" y2="466.2" stroke="#333" stroke-width="0.9"/>
<line x1="106.5" y1="462" x2="110.5" y2="462" stroke="#333" stroke-width="0.9"/>
<line x1="106.5" y1="466.2" x2="110.5" y2="466.2" stroke="#333" stroke-width="0.9"/>
<line x1="128.2" y1="462.9" x2="128.2" y2="467" stroke="#333" stroke-width="0.9"/>
<line x1="126.2" y1="462.9" x2="130.2" y2="462.9" stroke="#333" stroke-width="0.9"/>
<line x1="126.2" y1="467" x2="130.2" y2="467" stroke="#333" stroke-width="0.9"/>
<line x1="160.5" y1="414.3" x2="160.5" y2="434.2" stroke="#333" stroke-width="0.9"/>
<line x1="158.5" y1="414.3" x2="162.5" y2="414.3" stroke="#333" stroke-width="0.9"/>
<line x1="158.5" y1="434.2" x2="162.5" y2="434.2" stroke="#333" stroke-width="0.9"/>
<line x1="180" y1="445.7" x2="180" y2="458.8" stroke="#333" stroke-width="0.9"/>
<line x1="178" y1="445.7" x2="182" y2="445.7" stroke="#333" stroke-width="0.9"/>
<line x1="178" y1="458.8" x2="182" y2="458.8" stroke="#333" stroke-width="0.9"/>
<text x="170" y="402.2" font-size="7" text-anchor="middle" stroke="#2b2b2b" stroke-width="0.11">0.0017</text>
<line x1="161" y1="404.6" x2="179.5" y2="404.6" stroke="#444" stroke-width="0.9"/>
<text x="189.3" y="371.3" font-size="6.8" stroke="#2b2b2b" stroke-width="0.11">KMS12BM</text>
<rect x="189.3" y="377" width="4.5" height="4.3" fill="#cacaca"/>
<text x="197" y="381.8" font-size="6.8" stroke="#2b2b2b" stroke-width="0.11">WT</text>
<rect x="189.3" y="388.2" width="4.5" height="4.3" fill="#2a2a2a"/>
<text x="197" y="392.6" font-size="6.8" stroke="#2b2b2b" stroke-width="0.11">MCL1</text>
<text x="118.6" y="485.9" font-size="7.4" text-anchor="middle" textLength="33" lengthAdjust="spacingAndGlyphs" stroke="#2b2b2b" stroke-width="0.12">Untreated</text>
<text x="170.5" y="485.9" font-size="7.4" text-anchor="middle" textLength="35.8" lengthAdjust="spacingAndGlyphs" stroke="#2b2b2b" stroke-width="0.12">Venetoclax</text>
<text x="169.8" y="494.1" font-size="7.4" text-anchor="middle" textLength="21.8" lengthAdjust="spacingAndGlyphs" stroke="#2b2b2b" stroke-width="0.12">200nM</text>
<text x="0" y="0" font-size="9.8" text-anchor="middle" textLength="81" lengthAdjust="spacingAndGlyphs" stroke="#2b2b2b" stroke-width="0.12" transform="translate(67.5 419) rotate(-90)">Percentage of cell death</text>
<text x="7.4" y="526.75" font-size="13.4" fill="#0a0a0a" font-weight="bold" textLength="9.68" lengthAdjust="spacingAndGlyphs" stroke="#0a0a0a" stroke-width="0.45">H</text>
<text x="80.3" y="536.2" font-size="7.1" textLength="87.8" lengthAdjust="spacingAndGlyphs" stroke="#2b2b2b" stroke-width="0.11">chr20:31573988&#8211;31843989</text>
<text x="80.3" y="545.6" font-size="7.1" textLength="73.4" lengthAdjust="spacingAndGlyphs" stroke="#2b2b2b" stroke-width="0.11">Chromatin accessibility</text>
<rect x="137.1" y="551.2" width="12.3" height="125" fill="#fbdfe1"/>
<rect x="215.6" y="551.2" width="13.8" height="188" fill="#cbcbcb"/>
<rect x="231.6" y="551.2" width="6.5" height="188" fill="#cbcbcb"/>
<rect x="240.6" y="551.2" width="3.6" height="188" fill="#cbcbcb"/>
<rect x="244.7" y="551.2" width="12.4" height="188" fill="#cbcbcb"/>
<rect x="267.9" y="551.2" width="18.9" height="188" fill="#cbcbcb"/>
<rect x="80" y="587.2" width="372.5" height="1.1" fill="#1b2466"/>
<path d="M82.95 588.3 L83.65 586.32 L84.12 584.99 L84.59 584.7 L85.29 584.84 L85.99 586.68 L86.85 588.3 Z M96.84 588.3 L97.4 584.67 L97.78 582.23 L98.15 581.7 L98.71 581.96 L99.27 585.33 L99.96 588.3 Z M118.78 588.3 L119.36 586.1 L119.75 584.62 L120.14 584.3 L120.73 584.46 L121.31 586.5 L122.03 588.3 Z M120.39 588.3 L121.19 570.42 L121.72 558.4 L122.25 555.8 L123.04 557.1 L123.84 573.67 L124.81 588.3 Z M131.84 588.3 L132.4 576.42 L132.78 568.43 L133.15 566.7 L133.71 567.56 L134.27 578.58 L134.96 588.3 Z M138.6 588.3 L139.07 586.6 L139.38 585.45 L139.69 585.2 L140.16 585.32 L140.63 586.9 L141.2 588.3 Z M144.2 588.3 L144.67 587.14 L144.98 586.37 L145.29 586.2 L145.76 586.28 L146.23 587.36 L146.8 588.3 Z M161.37 588.3 L161.88 584.89 L162.23 582.6 L162.57 582.1 L163.09 582.35 L163.6 585.51 L164.23 588.3 Z M175.5 588.3 L175.97 587.03 L176.28 586.18 L176.59 586 L177.06 586.09 L177.53 587.26 L178.1 588.3 Z M180.7 588.3 L181.17 587.03 L181.48 586.18 L181.79 586 L182.26 586.09 L182.73 587.26 L183.3 588.3 Z M199.44 588.3 L200 581.1 L200.38 576.25 L200.75 575.2 L201.31 575.72 L201.87 582.4 L202.56 588.3 Z M217.64 588.3 L218.2 578.45 L218.58 571.83 L218.95 570.4 L219.51 571.12 L220.07 580.25 L220.76 588.3 Z M231.64 588.3 L232.2 582.52 L232.58 578.64 L232.95 577.8 L233.51 578.22 L234.07 583.57 L234.76 588.3 Z M241.07 588.3 L241.58 585.5 L241.93 583.61 L242.27 583.2 L242.79 583.4 L243.3 586 L243.93 588.3 Z M251.17 588.3 L251.68 582.86 L252.03 579.19 L252.37 578.4 L252.89 578.8 L253.4 583.84 L254.03 588.3 Z M260.57 588.3 L261.08 583.4 L261.43 580.11 L261.77 579.4 L262.29 579.76 L262.8 584.29 L263.43 588.3 Z M264.27 588.3 L264.78 583.18 L265.13 579.74 L265.47 579 L265.99 579.37 L266.5 584.12 L267.13 588.3 Z M282.55 588.3 L283.25 574.72 L283.72 565.58 L284.19 563.6 L284.89 564.59 L285.59 577.18 L286.45 588.3 Z M284.45 588.3 L285.15 567.89 L285.62 554.17 L286.09 551.2 L286.79 552.68 L287.49 571.61 L288.35 588.3 Z M306.11 588.3 L306.72 567.89 L307.12 554.17 L307.53 551.2 L308.14 552.68 L308.75 571.61 L309.49 588.3 Z M318.17 588.3 L318.68 583.29 L319.03 579.93 L319.37 579.2 L319.89 579.56 L320.4 584.21 L321.03 588.3 Z M316.2 588.3 L316.67 586.21 L316.98 584.8 L317.29 584.5 L317.76 584.65 L318.23 586.59 L318.8 588.3 Z M283.01 588.3 L284.09 576.03 L284.8 567.78 L285.52 566 L286.6 566.89 L287.67 578.26 L288.99 588.3 Z M305.2 588.3 L306.14 584.83 L306.76 582.5 L307.38 582 L308.32 582.25 L309.26 585.46 L310.4 588.3 Z M349.37 588.3 L349.88 583.46 L350.23 580.2 L350.57 579.5 L351.09 579.85 L351.6 584.34 L352.23 588.3 Z M394.5 588.3 L394.97 587.03 L395.28 586.18 L395.59 586 L396.06 586.09 L396.53 587.26 L397.1 588.3 Z M421.74 588.3 L422.3 582.08 L422.68 577.9 L423.05 577 L423.61 577.45 L424.17 583.21 L424.86 588.3 Z M436.57 588.3 L437.08 584.17 L437.43 581.4 L437.77 580.8 L438.29 581.1 L438.8 584.92 L439.43 588.3 Z M440.37 588.3 L440.88 585.11 L441.23 582.96 L441.57 582.5 L442.09 582.73 L442.6 585.69 L443.23 588.3 Z M82 588.3 L82.4 586.7 L87.6 586.7 L88 588.3 Z M95 588.3 L95.4 587.1 L100.6 587.1 L101 588.3 Z M110 588.3 L110.4 587.3 L115.6 587.3 L116 588.3 Z M160 588.3 L160.4 587.1 L165.6 587.1 L166 588.3 Z M176 588.3 L176.4 587 L183.6 587 L184 588.3 Z M207 588.3 L207.4 587.3 L212.6 587.3 L213 588.3 Z M230 588.3 L230.4 587.3 L235.6 587.3 L236 588.3 Z M258 588.3 L258.4 587.2 L269.6 587.2 L270 588.3 Z M276 588.3 L276.4 586.8 L283.6 586.8 L284 588.3 Z M300 588.3 L300.4 587.3 L305.6 587.3 L306 588.3 Z M330 588.3 L330.4 587.4 L344.6 587.4 L345 588.3 Z M355 588.3 L355.4 587.5 L361.6 587.5 L362 588.3 Z M388 588.3 L388.4 587.2 L399.6 587.2 L400 588.3 Z M410 588.3 L410.4 587.4 L419.6 587.4 L420 588.3 Z M430 588.3 L430.4 587.1 L445.6 587.1 L446 588.3 Z" fill="#1b2466"/>
<rect x="80" y="624.5" width="372.5" height="1.1" fill="#da1f26"/>
<path d="M81.9 625.6 L82.37 623.73 L82.68 622.47 L82.99 622.2 L83.46 622.34 L83.93 624.07 L84.5 625.6 Z M85.4 625.6 L85.87 623.89 L86.18 622.75 L86.49 622.5 L86.96 622.62 L87.43 624.21 L88 625.6 Z M94 625.6 L94.47 624.17 L94.78 623.21 L95.09 623 L95.56 623.1 L96.03 624.43 L96.6 625.6 Z M96.97 625.6 L97.48 621.37 L97.83 618.52 L98.17 617.9 L98.69 618.21 L99.2 622.13 L99.83 625.6 Z M105.2 625.6 L105.67 623.07 L105.98 621.37 L106.29 621 L106.76 621.18 L107.23 623.53 L107.8 625.6 Z M109.9 625.6 L110.37 624 L110.68 622.93 L110.99 622.7 L111.46 622.82 L111.93 624.3 L112.5 625.6 Z M117.55 625.6 L118.25 621.81 L118.72 619.25 L119.19 618.7 L119.89 618.98 L120.59 622.5 L121.45 625.6 Z M120 625.6 L120.94 605.63 L121.56 592.2 L122.18 589.3 L123.12 590.75 L124.06 609.26 L125.2 625.6 Z M123.58 625.6 L124.16 613.72 L124.55 605.73 L124.94 604 L125.53 604.86 L126.11 615.88 L126.83 625.6 Z M126 625.6 L126.47 623.46 L126.78 622.01 L127.09 621.7 L127.56 621.86 L128.03 623.85 L128.6 625.6 Z M131.97 625.6 L132.48 614.22 L132.83 606.56 L133.17 604.9 L133.69 605.73 L134.2 616.28 L134.83 625.6 Z M138.34 625.6 L138.9 613.28 L139.28 604.99 L139.65 603.2 L140.21 604.1 L140.77 615.52 L141.46 625.6 Z M141.1 625.6 L141.57 624 L141.88 622.93 L142.19 622.7 L142.66 622.82 L143.13 624.3 L143.7 625.6 Z M144.37 625.6 L144.88 620.21 L145.23 616.58 L145.57 615.8 L146.09 616.19 L146.6 621.19 L147.23 625.6 Z M156.17 625.6 L156.68 617.35 L157.03 611.8 L157.37 610.6 L157.89 611.2 L158.4 618.85 L159.03 625.6 Z M161.5 625.6 L161.97 623.07 L162.28 621.37 L162.59 621 L163.06 621.18 L163.53 623.53 L164.1 625.6 Z M169.9 625.6 L170.37 624.39 L170.68 623.58 L170.99 623.4 L171.46 623.49 L171.93 624.61 L172.5 625.6 Z M175.7 625.6 L176.17 624.17 L176.48 623.21 L176.79 623 L177.26 623.1 L177.73 624.43 L178.3 625.6 Z M179.5 625.6 L179.97 624.17 L180.28 623.21 L180.59 623 L181.06 623.1 L181.53 624.43 L182.1 625.6 Z M188.37 625.6 L188.88 622.3 L189.23 620.08 L189.57 619.6 L190.09 619.84 L190.6 622.9 L191.23 625.6 Z M197.05 625.6 L197.75 621.42 L198.22 618.61 L198.69 618 L199.39 618.3 L200.09 622.18 L200.95 625.6 Z M199.05 625.6 L199.75 616.14 L200.22 609.78 L200.69 608.4 L201.39 609.09 L202.09 617.86 L202.95 625.6 Z M204.5 625.6 L204.97 623.62 L205.28 622.29 L205.59 622 L206.06 622.14 L206.53 623.98 L207.1 625.6 Z M207.5 625.6 L207.97 623.62 L208.28 622.29 L208.59 622 L209.06 622.14 L209.53 623.98 L210.1 625.6 Z M217.64 625.6 L218.2 616.41 L218.58 610.24 L218.95 608.9 L219.51 609.57 L220.07 618.09 L220.76 625.6 Z M222.7 625.6 L223.17 623.07 L223.48 621.37 L223.79 621 L224.26 621.18 L224.73 623.53 L225.3 625.6 Z M226.5 625.6 L226.97 623.62 L227.28 622.29 L227.59 622 L228.06 622.14 L228.53 623.98 L229.1 625.6 Z M231.94 625.6 L232.5 618.67 L232.88 614.01 L233.25 613 L233.81 613.5 L234.37 619.93 L235.06 625.6 Z M234.7 625.6 L235.17 622.52 L235.48 620.45 L235.79 620 L236.26 620.22 L236.73 623.08 L237.3 625.6 Z M241.04 625.6 L241.6 616.58 L241.98 610.51 L242.35 609.2 L242.91 609.86 L243.47 618.22 L244.16 625.6 Z M244.4 625.6 L244.87 622.58 L245.18 620.54 L245.49 620.1 L245.96 620.32 L246.43 623.12 L247 625.6 Z M251.44 625.6 L252 612.78 L252.38 604.16 L252.75 602.3 L253.31 603.23 L253.87 615.12 L254.56 625.6 Z M260.44 625.6 L261 611.52 L261.38 602.05 L261.75 600 L262.31 601.02 L262.87 614.08 L263.56 625.6 Z M263.97 625.6 L264.48 618.5 L264.83 613.73 L265.17 612.7 L265.69 613.22 L266.2 619.8 L266.83 625.6 Z M268.5 625.6 L268.97 623.24 L269.28 621.64 L269.59 621.3 L270.06 621.47 L270.53 623.66 L271.1 625.6 Z M271.2 625.6 L271.67 621.53 L271.98 618.79 L272.29 618.2 L272.76 618.5 L273.23 622.27 L273.8 625.6 Z M276.57 625.6 L277.08 620.21 L277.43 616.58 L277.77 615.8 L278.29 616.19 L278.8 621.19 L279.43 625.6 Z M280.97 625.6 L281.48 621.81 L281.83 619.25 L282.17 618.7 L282.69 618.98 L283.2 622.5 L283.83 625.6 Z M282.65 625.6 L283.35 614.82 L283.82 607.57 L284.29 606 L284.99 606.78 L285.69 616.78 L286.55 625.6 Z M284.06 625.6 L284.9 605.63 L285.46 592.2 L286.03 589.3 L286.87 590.75 L287.71 609.26 L288.74 625.6 Z M288.4 625.6 L288.87 623.07 L289.18 621.37 L289.49 621 L289.96 621.18 L290.43 623.53 L291 625.6 Z M282.35 625.6 L283.52 612.62 L284.3 603.89 L285.08 602 L286.25 602.94 L287.42 614.98 L288.85 625.6 Z M299.3 625.6 L299.77 623.62 L300.08 622.29 L300.39 622 L300.86 622.14 L301.33 623.98 L301.9 625.6 Z M305.98 625.6 L306.64 607.56 L307.07 595.42 L307.51 592.8 L308.16 594.11 L308.82 610.84 L309.62 625.6 Z M307.71 625.6 L308.32 618.01 L308.72 612.9 L309.13 611.8 L309.74 612.35 L310.35 619.39 L311.09 625.6 Z M316.6 625.6 L317.07 622.52 L317.38 620.45 L317.69 620 L318.16 620.22 L318.63 623.08 L319.2 625.6 Z M318.17 625.6 L318.68 620.38 L319.03 616.86 L319.37 616.1 L319.89 616.48 L320.4 621.33 L321.03 625.6 Z M326.9 625.6 L327.37 624.17 L327.68 623.21 L327.99 623 L328.46 623.1 L328.93 624.43 L329.5 625.6 Z M349.37 625.6 L349.88 621.59 L350.23 618.88 L350.57 618.3 L351.09 618.59 L351.6 622.31 L352.23 625.6 Z M375 625.6 L375.47 624.72 L375.78 624.13 L376.09 624 L376.56 624.06 L377.03 624.88 L377.6 625.6 Z M421.74 625.6 L422.3 617.74 L422.68 612.44 L423.05 611.3 L423.61 611.87 L424.17 619.16 L424.86 625.6 Z M436.57 625.6 L437.08 620.49 L437.43 617.04 L437.77 616.3 L438.29 616.67 L438.8 621.41 L439.43 625.6 Z M440.24 625.6 L440.8 616.63 L441.18 610.6 L441.55 609.3 L442.11 609.95 L442.67 618.26 L443.36 625.6 Z M81 625.6 L81.4 624 L91.6 624 L92 625.6 Z M100 625.6 L100.4 624.3 L117.6 624.3 L118 625.6 Z M128 625.6 L128.4 624.1 L131.6 624.1 L132 625.6 Z M146 625.6 L146.4 624.3 L155.6 624.3 L156 625.6 Z M164 625.6 L164.4 624.3 L196.6 624.3 L197 625.6 Z M203 625.6 L203.4 624 L215.6 624 L216 625.6 Z M220 625.6 L220.4 624.2 L231.6 624.2 L232 625.6 Z M236 625.6 L236.4 624 L251.6 624 L252 625.6 Z M256 625.6 L256.4 623.9 L281.6 623.9 L282 625.6 Z M290 625.6 L290.4 625 L297.6 625 L298 625.6 Z M312 625.6 L312.4 624.2 L315.6 624.2 L316 625.6 Z M330 625.6 L330.4 624.7 L347.6 624.7 L348 625.6 Z M354 625.6 L354.4 624.8 L371.6 624.8 L372 625.6 Z M378 625.6 L378.4 624.8 L419.6 624.8 L420 625.6 Z M426 625.6 L426.4 624.4 L435.6 624.4 L436 625.6 Z M444 625.6 L444.4 624.4 L450.6 624.4 L451 625.6 Z" fill="#da1f26"/>
<rect x="80" y="551.2" width="372.5" height="74.5" fill="none" stroke="#d9d9d9" stroke-width="0.7"/>
<line x1="80" y1="588.6" x2="452.5" y2="588.6" stroke="#e4e4e4" stroke-width="0.5"/>
<text x="47.4" y="570.9" font-size="7.1" text-anchor="end" fill="#34417e" textLength="30.9" lengthAdjust="spacingAndGlyphs" stroke="#34417e" stroke-width="0.11">PM01 Pre</text>
<text x="47.2" y="610.6" font-size="7.1" text-anchor="end" fill="#cf4a3a" textLength="34.2" lengthAdjust="spacingAndGlyphs" stroke="#cf4a3a" stroke-width="0.11">PM01 Post</text>
<text x="0" y="0" font-size="7.6" text-anchor="middle" textLength="56.8" lengthAdjust="spacingAndGlyphs" stroke="#2b2b2b" stroke-width="0.12" transform="translate(58 588.6) rotate(-90)">Coverage (Norm.</text>
<text x="0" y="0" font-size="7.6" text-anchor="middle" textLength="64.6" lengthAdjust="spacingAndGlyphs" stroke="#2b2b2b" stroke-width="0.12" transform="translate(66.1 588.6) rotate(-90)">ATAC Signal Range</text>
<text x="0" y="0" font-size="7.6" text-anchor="middle" textLength="79.5" lengthAdjust="spacingAndGlyphs" stroke="#2b2b2b" stroke-width="0.12" transform="translate(75.2 588.6) rotate(-90)">(0&#8211;0.21) by ReadsInTSS)</text>
<rect x="80" y="628" width="372.5" height="10.4" fill="none" stroke="#ead6d6" stroke-width="0.6"/>
<text x="76.5" y="634.6" font-size="7.2" text-anchor="end" stroke="#2b2b2b" stroke-width="0.12">Peaks</text>
<path d="M85.3 630.2 V634.6 M93.6 630.2 V634.6 M99.1 630.2 V634.6 M106.5 630.2 V634.6 M110 630.2 V634.6 M120.4 630.2 V634.6 M121.9 630.2 V634.6 M123.4 630.2 V634.6 M124.9 630.2 V634.6 M126.4 630.2 V634.6 M128 630.2 V634.6 M133.7 630.2 V634.6 M138.6 630.2 V634.6 M140.3 630.2 V634.6 M142 630.2 V634.6 M145.8 630.2 V634.6 M157.2 630.2 V634.6 M160.2 630.2 V634.6 M163.1 630.2 V634.6 M173.5 630.2 V634.6 M190.8 630.2 V634.6 M199.8 630.2 V634.6 M201.5 630.2 V634.6 M203.3 630.2 V634.6 M205.3 630.2 V634.6 M207.3 630.2 V634.6 M209.3 630.2 V634.6 M216.7 630.2 V634.6 M218.6 630.2 V634.6 M220.6 630.2 V634.6 M224.4 630.2 V634.6 M225.9 630.2 V634.6 M232.7 630.2 V634.6 M234.4 630.2 V634.6 M240.4 630.2 V634.6 M242.2 630.2 V634.6 M244.1 630.2 V634.6 M245.8 630.2 V634.6 M247.8 630.2 V634.6 M250.4 630.2 V634.6 M253 630.2 V634.6 M256.4 630.2 V634.6 M259.4 630.2 V634.6 M262 630.2 V634.6 M265.6 630.2 V634.6 M268.5 630.2 V634.6 M270 630.2 V634.6 M271.5 630.2 V634.6 M272.9 630.2 V634.6 M277.2 630.2 V634.6 M278.7 630.2 V634.6 M280.2 630.2 V634.6 M281.7 630.2 V634.6 M283.2 630.2 V634.6 M284.7 630.2 V634.6 M286.2 630.2 V634.6 M287.6 630.2 V634.6 M306.6 630.2 V634.6 M308 630.2 V634.6 M309.5 630.2 V634.6 M310.9 630.2 V634.6 M318.2 630.2 V634.6 M319.9 630.2 V634.6 M351 630.2 V634.6 M424 630.2 V634.6 M438.5 630.2 V634.6 M441.8 630.2 V634.6 M447.4 630.2 V634.6" fill="none" stroke="#d43a3a" stroke-width="0.9"/>
<rect x="80" y="639.3" width="372.5" height="36.8" fill="none" stroke="#d9d9d9" stroke-width="0.7"/>
<text x="76.3" y="656" font-size="7.2" text-anchor="end" stroke="#2b2b2b" stroke-width="0.12">Peak2Gene</text>
<text x="76.3" y="664.4" font-size="7.2" text-anchor="end" stroke="#2b2b2b" stroke-width="0.12">Links</text>
<path d="M139.8 641.2 A74.05 31.5 0 0 0 287.9 641.2" fill="none" stroke="#b8a6d2" stroke-width="2.6"/>
<path d="M139.8 641.2 A74.05 31.5 0 0 0 287.9 641.2" fill="none" stroke="#3c2a62" stroke-width="1.3"/>
<path d="M141.6 641.2 A73.15 30.6 0 0 0 287.9 641.2" fill="none" stroke="#8e7ab4" stroke-width="0.6"/>
<path d="M145.5 641.2 A71.2 29.8 0 0 0 287.9 641.2" fill="none" stroke="#b8a6d2" stroke-width="2.2"/>
<path d="M145.5 641.2 A71.2 29.8 0 0 0 287.9 641.2" fill="none" stroke="#46336e" stroke-width="1.2"/>
<path d="M157.5 641.2 A65.2 27.5 0 0 0 287.9 641.2" fill="none" stroke="#523e7c" stroke-width="1"/>
<path d="M199.4 641.2 A44.25 19.03 0 0 0 287.9 641.2" fill="none" stroke="#ae9ed0" stroke-width="2.2"/>
<path d="M199.4 641.2 A44.25 19.03 0 0 0 287.9 641.2" fill="none" stroke="#523f84" stroke-width="1.15"/>
<path d="M206.8 641.2 A40.55 17.44 0 0 0 287.9 641.2" fill="none" stroke="#7a7cc0" stroke-width="1"/>
<path d="M242.1 641.2 A22.9 9.85 0 0 0 287.9 641.2" fill="none" stroke="#5a86c6" stroke-width="0.9"/>
<path d="M247.5 641.2 A20.2 8.69 0 0 0 287.9 641.2" fill="none" stroke="#5f8ccb" stroke-width="0.9"/>
<path d="M253.6 641.2 A17.15 7.37 0 0 0 287.9 641.2" fill="none" stroke="#6a98d2" stroke-width="0.9"/>
<path d="M261.6 641.2 A13.15 5.65 0 0 0 287.9 641.2" fill="none" stroke="#7aa6d8" stroke-width="0.9"/>
<path d="M266.3 641.2 A10.8 4.64 0 0 0 287.9 641.2" fill="none" stroke="#7eaad8" stroke-width="0.9"/>
<path d="M271 641.2 A8.45 3.63 0 0 0 287.9 641.2" fill="none" stroke="#88b2dc" stroke-width="0.9"/>
<path d="M275 641.2 A6.45 2.77 0 0 0 287.9 641.2" fill="none" stroke="#92bae0" stroke-width="0.9"/>
<path d="M279.1 641.2 A4.4 1.89 0 0 0 287.9 641.2" fill="none" stroke="#9cc2e4" stroke-width="0.9"/>
<path d="M287.9 641.2 A10.75 4.62 0 0 0 309.4 641.2" fill="none" stroke="#9cc4e4" stroke-width="0.9"/>
<path d="M287.9 641.2 A77.35 33 0 0 0 442.6 641.2" fill="none" stroke="#86b4dc" stroke-width="1"/>
<defs><linearGradient id="cb" x1="0" y1="0" x2="0" y2="1"><stop offset="0" stop-color="#140718"/><stop offset="0.3" stop-color="#6a1a78"/><stop offset="0.5" stop-color="#7a3ca8"/><stop offset="0.7" stop-color="#3d7fc2"/><stop offset="1" stop-color="#d6ecf8"/></linearGradient></defs>
<rect x="456.2" y="646.8" width="5" height="22.2" fill="url(#cb)"/>
<text x="463.4" y="650.3" font-size="5.6" fill="#555" stroke="#555" stroke-width="0.09">0.8</text>
<text x="463.4" y="656.33" font-size="5.6" fill="#555" stroke="#555" stroke-width="0.09">0.7</text>
<text x="463.4" y="662.36" font-size="5.6" fill="#555" stroke="#555" stroke-width="0.09">0.6</text>
<text x="463.4" y="668.39" font-size="5.6" fill="#555" stroke="#555" stroke-width="0.09">0.5</text>
<rect x="80" y="679.2" width="372.5" height="60" fill="none" stroke="#b4b4b4" stroke-width="0.7"/>
<line x1="80" y1="679.2" x2="80" y2="739.2" stroke="#e0e0e0" stroke-width="0.8"/>
<text x="76.3" y="715.5" font-size="7.2" text-anchor="end" stroke="#2b2b2b" stroke-width="0.12">Genes</text>
<rect x="91.6" y="680.7" width="56.1" height="9.7" fill="#fff" stroke="#d77670" stroke-width="0.85" rx="2.2"/>
<text x="119.65" y="688.15" font-size="7.2" text-anchor="middle" fill="#c64a42" textLength="39" lengthAdjust="spacingAndGlyphs" stroke="#c64a42" stroke-width="0.08">RNU6-384P</text>
<rect x="127.6" y="698.3" width="42.3" height="10.4" fill="#fff" stroke="#d77670" stroke-width="0.85" rx="2.2"/>
<text x="148.75" y="706.1" font-size="7.2" text-anchor="middle" fill="#c64a42" textLength="28.34" lengthAdjust="spacingAndGlyphs" stroke="#c64a42" stroke-width="0.08">MIR3193</text>
<rect x="83.2" y="709.5" width="29.6" height="9.8" fill="#fff" stroke="#d77670" stroke-width="0.85" rx="2.2"/>
<text x="98" y="717" font-size="7.2" text-anchor="middle" fill="#c64a42" textLength="18.63" lengthAdjust="spacingAndGlyphs" stroke="#c64a42" stroke-width="0.08">HM13</text>
<rect x="145.2" y="712.5" width="37.8" height="9.6" fill="#fff" stroke="#d77670" stroke-width="0.85" rx="2.2"/>
<text x="164.1" y="719.9" font-size="7.2" text-anchor="middle" fill="#c64a42" textLength="24.84" lengthAdjust="spacingAndGlyphs" stroke="#c64a42" stroke-width="0.08">COX4I2</text>
<rect x="106.4" y="726.8" width="15.9" height="9.5" fill="#fff" stroke="#d77670" stroke-width="0.85" rx="2.2"/>
<text x="114.35" y="734.15" font-size="7.2" text-anchor="middle" fill="#c64a42" textLength="10.87" lengthAdjust="spacingAndGlyphs" stroke="#c64a42" stroke-width="0.08">ID1</text>
<rect x="277.8" y="694" width="44.4" height="9.8" fill="#fff" stroke="#d77670" stroke-width="0.85" rx="2.2"/>
<text x="300" y="701.5" font-size="7.2" text-anchor="middle" fill="#c64a42" textLength="28.34" lengthAdjust="spacingAndGlyphs" stroke="#c64a42" stroke-width="0.08">ABALON</text>
<rect x="265.5" y="712.6" width="37.5" height="10.4" fill="#f4f9fd" stroke="#8fbde6" stroke-width="0.85" rx="2.2"/>
<text x="284.25" y="720.4" font-size="7.2" text-anchor="middle" fill="#3c78b8" textLength="25.24" lengthAdjust="spacingAndGlyphs" stroke="#3c78b8" stroke-width="0.08">BCL2L1</text>
<rect x="320.2" y="713.8" width="28.1" height="9.5" fill="#fff" stroke="#d77670" stroke-width="0.85" rx="2.2"/>
<text x="334.25" y="721.15" font-size="7.2" text-anchor="middle" fill="#c64a42" textLength="17.47" lengthAdjust="spacingAndGlyphs" stroke="#c64a42" stroke-width="0.08">TPX2</text>
<rect x="414.5" y="711" width="33.8" height="9.3" fill="#fff" stroke="#d77670" stroke-width="0.85" rx="2.2"/>
<text x="431.4" y="718.25" font-size="7.2" text-anchor="middle" fill="#c64a42" textLength="22.9" lengthAdjust="spacingAndGlyphs" stroke="#c64a42" stroke-width="0.08">MYLK2</text>
<line x1="89.5" y1="688.8" x2="89.5" y2="692.5" stroke="#d2403c" stroke-width="0.6"/>
<rect x="80" y="726" width="5.3" height="3.2" fill="#de3424"/>
<rect x="123.2" y="724.6" width="1.6" height="5.5" fill="#c42a20"/>
<rect x="167.8" y="725.9" width="9.9" height="3.3" fill="#de3424"/>
<rect x="284.3" y="703.8" width="2" height="5" fill="#e02a22"/>
<rect x="205.2" y="726" width="80.5" height="3.2" fill="#1f6fb5"/>
<line x1="205.6" y1="724.3" x2="205.6" y2="730.8" stroke="#1f6fb5" stroke-width="1.3"/>
<path d="M284.4 724.1 L287.9 727.6 L284.4 731.1 Z" fill="#1f6fb5"/>
<rect x="308.6" y="725.9" width="85.2" height="3.4" fill="#de3424"/>
<path d="M310 726.2 L311.3 727.6 L310 729 M314.2 726.2 L315.5 727.6 L314.2 729 M318.4 726.2 L319.7 727.6 L318.4 729 M322.6 726.2 L323.9 727.6 L322.6 729 M326.8 726.2 L328.1 727.6 L326.8 729 M331 726.2 L332.3 727.6 L331 729 M335.2 726.2 L336.5 727.6 L335.2 729 M339.4 726.2 L340.7 727.6 L339.4 729 M343.6 726.2 L344.9 727.6 L343.6 729 M347.8 726.2 L349.1 727.6 L347.8 729 M352 726.2 L353.3 727.6 L352 729 M356.2 726.2 L357.5 727.6 L356.2 729 M360.4 726.2 L361.7 727.6 L360.4 729 M364.6 726.2 L365.9 727.6 L364.6 729 M368.8 726.2 L370.1 727.6 L368.8 729 M373 726.2 L374.3 727.6 L373 729 M377.2 726.2 L378.5 727.6 L377.2 729 M381.4 726.2 L382.7 727.6 L381.4 729 M385.6 726.2 L386.9 727.6 L385.6 729 M389.8 726.2 L391.1 727.6 L389.8 729" fill="none" stroke="#9c1c12" stroke-width="0.6"/>
<line x1="393.4" y1="724.3" x2="393.4" y2="730.9" stroke="#b82418" stroke-width="1.2"/>
<line x1="308.9" y1="724.3" x2="308.9" y2="730.9" stroke="#b82418" stroke-width="1.2"/>
<rect x="419" y="725.9" width="21" height="3.4" fill="#de3424"/>
<path d="M421 726.2 L422.3 727.6 L421 729 M425.2 726.2 L426.5 727.6 L425.2 729 M429.4 726.2 L430.7 727.6 L429.4 729 M433.6 726.2 L434.9 727.6 L433.6 729 M437.8 726.2 L439.1 727.6 L437.8 729" fill="none" stroke="#9c1c12" stroke-width="0.6"/>
<line x1="419.3" y1="724.3" x2="419.3" y2="730.9" stroke="#b82418" stroke-width="1.2"/>
<line x1="439.7" y1="724.3" x2="439.7" y2="730.9" stroke="#b82418" stroke-width="1.2"/>
<text x="116" y="751.1" font-size="7.5" text-anchor="middle" textLength="32.6" lengthAdjust="spacingAndGlyphs" stroke="#2b2b2b" stroke-width="0.12">31600000</text>
<line x1="116" y1="739.2" x2="116" y2="740.6" stroke="#aaa" stroke-width="0.6"/>
<text x="184.9" y="751.1" font-size="7.5" text-anchor="middle" textLength="32.6" lengthAdjust="spacingAndGlyphs" stroke="#2b2b2b" stroke-width="0.12">31650000</text>
<line x1="184.9" y1="739.2" x2="184.9" y2="740.6" stroke="#aaa" stroke-width="0.6"/>
<text x="253.9" y="751.1" font-size="7.5" text-anchor="middle" textLength="32.6" lengthAdjust="spacingAndGlyphs" stroke="#2b2b2b" stroke-width="0.12">31700000</text>
<line x1="253.9" y1="739.2" x2="253.9" y2="740.6" stroke="#aaa" stroke-width="0.6"/>
<text x="323" y="751.1" font-size="7.5" text-anchor="middle" textLength="32.6" lengthAdjust="spacingAndGlyphs" stroke="#2b2b2b" stroke-width="0.12">31750000</text>
<line x1="323" y1="739.2" x2="323" y2="740.6" stroke="#aaa" stroke-width="0.6"/>
<text x="392" y="751.1" font-size="7.5" text-anchor="middle" textLength="32.6" lengthAdjust="spacingAndGlyphs" stroke="#2b2b2b" stroke-width="0.12">31800000</text>
<line x1="392" y1="739.2" x2="392" y2="740.6" stroke="#aaa" stroke-width="0.6"/>
<text x="452.6" y="546" font-size="7.4" textLength="54.2" lengthAdjust="spacingAndGlyphs" stroke="#2b2b2b" stroke-width="0.12">Gene Expression</text>
<rect x="455.5" y="551.3" width="48.8" height="74.1" fill="none" stroke="#8a8a8a" stroke-width="0.8"/>
<line x1="455.5" y1="588.5" x2="504.3" y2="588.5" stroke="#8a8a8a" stroke-width="0.8"/>
<path d="M458.1 588.2 L458.6 570 L459.1 556 L459.5 551.8 L460 555 L460.7 566 L461.6 578 L462.4 585 L463.4 588.2 Z" fill="#1b2466"/>
<path d="M469.3 625.3 C471 624.2 473 622.3 474.5 620.5 C476 619 477 617 477.8 614 C478.6 610 479.2 603 480.2 598 C481 594.5 482.5 591.5 484.2 589.6 L485.3 589.1 L486.3 590 L487.2 589.1 L488.4 589.3 C489.3 592 489.8 596 490.4 601 C491 606 491.6 611 492.5 615.5 C493.5 620 494.5 622.8 496 624.4 C496.8 625 497.3 625.3 498 625.3 Z" fill="#da1f26"/>
<line x1="458.3" y1="625.4" x2="458.3" y2="628.1" stroke="#8a8a8a" stroke-width="0.6"/>
<text x="458.3" y="636.9" font-size="5.4" text-anchor="middle" fill="#3a3a3a" textLength="6.6" lengthAdjust="spacingAndGlyphs" stroke="#3a3a3a" stroke-width="0.09">0.0</text>
<line x1="469.5" y1="625.4" x2="469.5" y2="628.1" stroke="#8a8a8a" stroke-width="0.6"/>
<text x="469.5" y="636.9" font-size="5.4" text-anchor="middle" fill="#3a3a3a" textLength="6.6" lengthAdjust="spacingAndGlyphs" stroke="#3a3a3a" stroke-width="0.09">0.5</text>
<line x1="481" y1="625.4" x2="481" y2="628.1" stroke="#8a8a8a" stroke-width="0.6"/>
<text x="481" y="636.9" font-size="5.4" text-anchor="middle" fill="#3a3a3a" textLength="6.6" lengthAdjust="spacingAndGlyphs" stroke="#3a3a3a" stroke-width="0.09">1.0</text>
<line x1="492.4" y1="625.4" x2="492.4" y2="628.1" stroke="#8a8a8a" stroke-width="0.6"/>
<text x="492.4" y="636.9" font-size="5.4" text-anchor="middle" fill="#3a3a3a" textLength="6.6" lengthAdjust="spacingAndGlyphs" stroke="#3a3a3a" stroke-width="0.09">1.5</text>
<line x1="503.6" y1="625.4" x2="503.6" y2="628.1" stroke="#8a8a8a" stroke-width="0.6"/>
<text x="503.6" y="636.9" font-size="5.4" text-anchor="middle" fill="#3a3a3a" textLength="6.6" lengthAdjust="spacingAndGlyphs" stroke="#3a3a3a" stroke-width="0.09">2.0</text>
<rect x="0" y="0" width="520" height="1.05" fill="#353535"/><rect x="0" y="0" width="1.2" height="760" fill="#484848"/><rect x="518.75" y="0" width="1.25" height="760" fill="#353535"/><rect x="0" y="758.5" width="520" height="1.5" fill="#353535"/>
</svg>
</body></html>
